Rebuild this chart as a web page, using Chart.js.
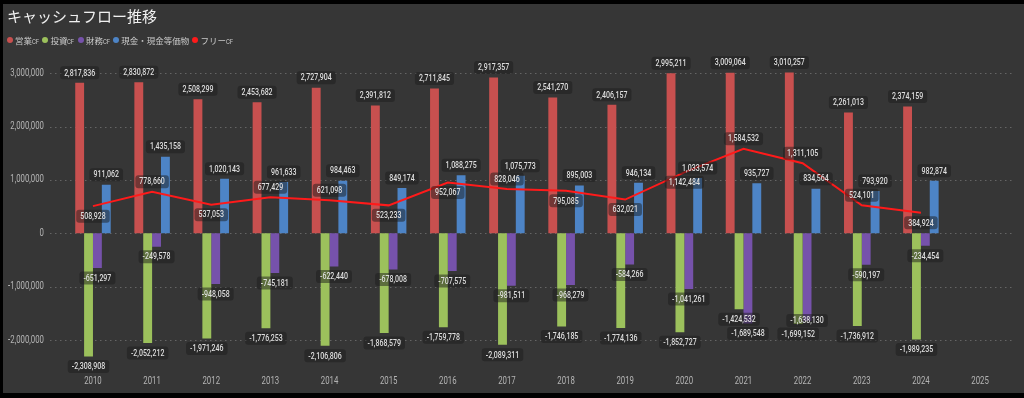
<!DOCTYPE html>
<html lang="ja">
<head>
<meta charset="utf-8">
<script src="https://cdn.jsdelivr.net/npm/chart.js@4.4.1/dist/chart.umd.min.js"></script>
<style>
  html, body { margin: 0; padding: 0; background: #000; width: 1024px; height: 398px; overflow: hidden; }
  #panel { position: absolute; left: 3px; top: 4px; width: 1021px; height: 389px; background: #363636; }
  #title { position: absolute; left: 4px; top: 3px; font-family: 'Noto Sans CJK JP', sans-serif; font-size: 15px; color: #f0f0f0; line-height: 18px; white-space: nowrap; }
  #legend { position: absolute; left: 4px; top: 30px; display: flex; align-items: center; font-family: 'Noto Sans CJK JP', sans-serif; font-size: 8.5px; color: #c8c8c8; white-space: nowrap; }
  .item { display: flex; align-items: center; margin-right: 3px; }
  .dot { width: 6px; height: 6px; border-radius: 50%; margin-right: 2px; }
  .cf { font-family: Roboto, sans-serif; font-size: 7px; display: inline-block; transform: scaleX(0.85); transform-origin: left center; margin-right: -1px; }
  #wrap { position: absolute; left: 0; top: 0; width: 1021px; height: 389px; }
</style>
</head>
<body>
<div id="panel">
  <div id="wrap"><canvas id="c"></canvas></div>
  <div id="title">キャッシュフロー推移</div>
  <div id="legend"></div>
</div>
<script>
// ---- data ----
const years = ['2010','2011','2012','2013','2014','2015','2016','2017','2018','2019','2020','2021','2022','2023','2024','2025'];
const operatingCF = [2817836, 2830872, 2508299, 2453682, 2727904, 2391812, 2711845, 2917357, 2541270, 2406157, 2995211, 3009064, 3010257, 2261013, 2374159, null];
const investingCF = [-2308908, -2052212, -1971246, -1776253, -2106806, -1868579, -1759778, -2089311, -1746185, -1774136, -1852727, -1424532, -1699152, -1736912, -1989235, null];
const financingCF = [-651297, -249578, -948058, -745181, -622440, -678008, -707575, -981511, -968279, -584266, -1041261, -1689548, -1638130, -590197, -234454, null];
const cashEquivalents = [911062, 1435158, 1020143, 961633, 984463, 849174, 1088275, 1075773, 895003, 946134, 1033574, 935727, 834564, 793920, 982874, null];
const freeCF = [508928, 778660, 537053, 677429, 621098, 523233, 952067, 828046, 795085, 632021, 1142484, 1584532, 1311105, 524101, 384924, null];
const seriesNames = ['営業CF', '投資CF', '財務CF', '現金・現金等価物', 'フリーCF'];
const yTickValues = [3000000, 2000000, 1000000, 0, -1000000, -2000000];

// ---- styles ----
const colors = ['#c8504f', '#9cc15c', '#7652ab', '#4d84c6', '#ff1a1a'];
const freeLabelSide = ['below','above','below','above','above','below','below','above','below','below','below','above','above','above','below'];
const SX = 0.78; // horizontal condensing of the DIN-like figures
const fmt = v => Number(v).toLocaleString('en-US');

// legend (HTML)
const legend = document.getElementById('legend');
seriesNames.forEach((n, i) => {
  const it = document.createElement('div'); it.className = 'item';
  const d = document.createElement('span'); d.className = 'dot'; d.style.background = colors[i];
  const t = document.createElement('span');
  const m = n.match(/^(.*?)(CF)?$/);
  t.appendChild(document.createTextNode(m[1]));
  if (m[2]) { const s = document.createElement('span'); s.className = 'cf'; s.textContent = 'CF'; t.appendChild(s); }
  it.appendChild(d); it.appendChild(t); legend.appendChild(it);
});

function condensedText(ctx, text, x, y, align) {
  ctx.save();
  ctx.translate(x, y);
  ctx.scale(SX, 1);
  ctx.textAlign = align;
  ctx.fillText(text, 0, 0);
  ctx.restore();
}

const axisPlugin = {
  id: 'axisDraw',
  beforeDatasetsDraw(chart) {
    const ctx = chart.ctx, ys = chart.scales.y, xs = chart.scales.x, area = chart.chartArea;
    ctx.save();
    ctx.strokeStyle = 'rgba(140,140,140,0.55)';
    ctx.lineWidth = 1;
    ctx.setLineDash([1.5, 3.5]);
    yTickValues.forEach(v => {
      const py = Math.round(ys.getPixelForValue(v)) + 0.5;
      ctx.beginPath(); ctx.moveTo(47, py); ctx.lineTo(area.right + 5, py); ctx.stroke();
    });
    ctx.setLineDash([]);
    ctx.fillStyle = '#b4b4b4';
    ctx.font = '10px Roboto, sans-serif';
    ctx.textBaseline = 'middle';
    yTickValues.forEach(v => condensedText(ctx, fmt(v), 41, ys.getPixelForValue(v), 'right'));
    years.forEach((y, i) => condensedText(ctx, y, xs.getPixelForValue(i), area.bottom + 15, 'center'));
    ctx.restore();
  }
};

const labelPlugin = {
  id: 'valueLabels',
  afterDatasetsDraw(chart) {
    const ctx = chart.ctx;
    ctx.save();
    ctx.font = "500 9px Roboto, sans-serif";
    const H = 13, padX = 4, off = 10;
    const placed = [];
    const overlaps = (a, b) => Math.abs(a.x - b.x) < (a.w + b.w) / 2 && Math.abs(a.y - b.y) < H;
    chart.data.datasets.forEach((ds, di) => {
      const meta = chart.getDatasetMeta(di);
      meta.data.forEach((el, i) => {
        const v = ds.data[i];
        if (v === null || v === undefined) return;
        const text = fmt(v);
        const w = ctx.measureText(text).width * SX + padX * 2;
        let y;
        if (ds.type === 'line') y = el.y + (freeLabelSide[i] === 'above' ? -off : off);
        else y = v >= 0 ? el.y - off : el.y + off;
        const lab = { x: el.x, y, w, text, i };
        if (v < 0 && ds.type !== 'line') {
          let guard = 0, hit;
          while ((hit = placed.find(p => p.i === i && overlaps(p, lab))) && guard < 5) { lab.y = hit.y - H - 0.5; guard++; }
        }
        placed.push(lab);
      });
    });
    placed.forEach(l => {
      const x0 = l.x - l.w / 2, y0 = l.y - H / 2;
      ctx.fillStyle = 'rgba(28,28,28,0.5)';
      ctx.beginPath();
      if (ctx.roundRect) ctx.roundRect(x0, y0, l.w, H, 3); else ctx.rect(x0, y0, l.w, H);
      ctx.fill();
      ctx.fillStyle = '#dedede';
      ctx.textBaseline = 'middle';
      condensedText(ctx, l.text, l.x, l.y + 0.5, 'center');
    });
    ctx.restore();
  }
};

const barDs = (label, data, color) => ({
  type: 'bar', label, data, backgroundColor: color, borderWidth: 0,
  categoryPercentage: 0.6, barPercentage: 1.0, order: 2
});

new Chart(document.getElementById('c'), {
  data: {
    labels: years,
    datasets: [
      barDs(seriesNames[0], operatingCF, colors[0]),
      barDs(seriesNames[1], investingCF, colors[1]),
      barDs(seriesNames[2], financingCF, colors[2]),
      barDs(seriesNames[3], cashEquivalents, colors[3]),
      { type: 'line', label: seriesNames[4], data: freeCF, borderColor: colors[4], backgroundColor: colors[4],
        borderWidth: 2, pointRadius: 0, tension: 0, order: 1, spanGaps: false }
    ]
  },
  options: {
    responsive: true, maintainAspectRatio: false, animation: false,
    layout: { padding: { top: 53.1, bottom: 6.2, left: 0, right: 14.4 } },
    plugins: { legend: { display: false }, title: { display: false }, tooltip: { enabled: false } },
    scales: {
      x: {
        offset: true,
        grid: { display: false, drawTicks: false }, border: { display: false },
        ticks: { display: false },
        afterFit: s => { s.height = 20; }
      },
      y: {
        min: -2500000, max: 3300000,
        grid: { display: false, drawTicks: false }, border: { display: false },
        afterBuildTicks: s => { s.ticks = yTickValues.map(v => ({ value: v })); },
        ticks: { display: false },
        afterFit: s => { s.width = 60.4; }
      }
    }
  },
  plugins: [axisPlugin, labelPlugin]
});
</script>
</body>
</html>
